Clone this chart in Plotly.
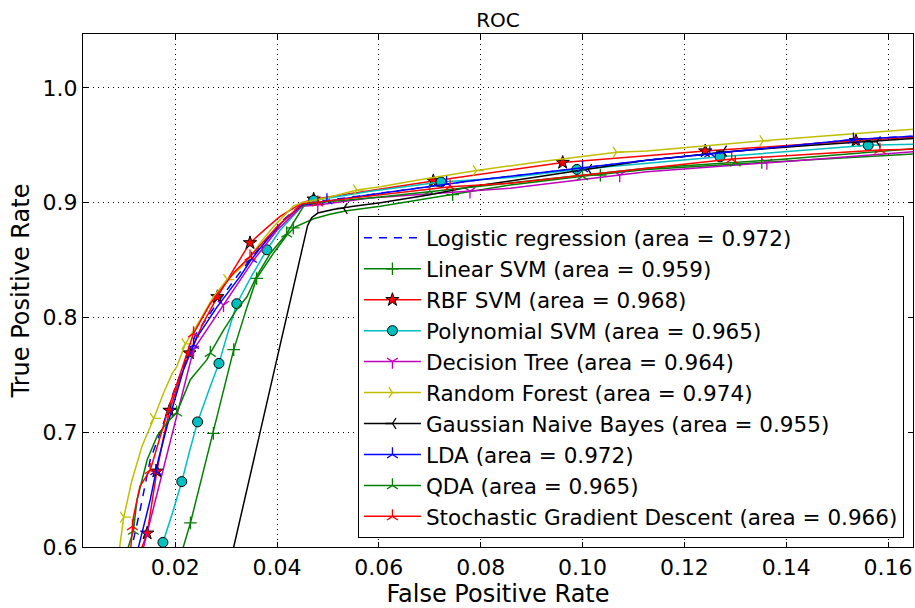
import plotly.graph_objects as go

# ---------------- data ----------------
X_TICKS = [0.02, 0.04, 0.06, 0.08, 0.10, 0.12, 0.14, 0.16]
X_TICK_LABELS = ["0.02", "0.04", "0.06", "0.08", "0.10", "0.12", "0.14", "0.16"]
Y_TICKS = [0.6, 0.7, 0.8, 0.9, 1.0]
Y_TICK_LABELS = ["0.6", "0.7", "0.8", "0.9", "1.0"]

NAMES = ["Logistic regression (area = 0.972)", "Linear SVM (area = 0.959)",
         "RBF SVM (area = 0.968)", "Polynomial SVM (area = 0.965)",
         "Decision Tree (area = 0.964)", "Random Forest (area = 0.974)",
         "Gaussian Naive Bayes (area = 0.955)", "LDA (area = 0.972)",
         "QDA (area = 0.965)", "Stochastic Gradient Descent (area = 0.966)"]

# Logistic regression
LR_FPR = [0.0111, 0.0115, 0.0131, 0.0151, 0.0175, 0.0197, 0.0215, 0.0240, 0.0280, 0.0325, 0.0347,
          0.0370, 0.0410, 0.0449, 0.0583, 0.0779, 0.0976, 0.1126, 0.1350, 0.1532, 0.1650]
LR_TPR = [0.580, 0.600, 0.632, 0.676, 0.705, 0.735, 0.756, 0.785, 0.811, 0.838, 0.850,
          0.863, 0.884, 0.899, 0.907, 0.919, 0.929, 0.937, 0.947, 0.955, 0.958]

# Linear SVM
LSVM_FPR = [0.0212, 0.0216, 0.0230, 0.0256, 0.0275, 0.0295, 0.0315, 0.0341, 0.0360, 0.0393, 0.0420,
            0.0436, 0.0472, 0.0504, 0.0537, 0.0603, 0.0700, 0.0858, 0.1000, 0.1126, 0.1352, 0.1650]
LSVM_TPR = [0.580, 0.600, 0.621, 0.667, 0.699, 0.734, 0.772, 0.809, 0.834, 0.856, 0.872,
            0.879, 0.886, 0.890, 0.893, 0.897, 0.904, 0.9155, 0.923, 0.929, 0.935, 0.9425]
LSVM_MK_FPR = [0.0230, 0.0275, 0.0315, 0.0360, 0.0432, 0.0745, 0.1035, 0.1352]
LSVM_MK_TPR = [0.621, 0.699, 0.772, 0.834, 0.878, 0.907, 0.924, 0.935]

# RBF SVM
RBF_FPR = [0.0132, 0.0135, 0.0145, 0.0155, 0.0164, 0.0176, 0.0189, 0.0208, 0.0228, 0.0255, 0.0283,
           0.0315, 0.0347, 0.0377, 0.0406, 0.0439, 0.0449, 0.0472, 0.0603, 0.0707, 0.0961, 0.1241,
           0.1537, 0.1650]
RBF_TPR = [0.580, 0.600, 0.612, 0.640, 0.666, 0.693, 0.719, 0.745, 0.769, 0.795, 0.818,
           0.842, 0.865, 0.877, 0.888, 0.897, 0.900, 0.903, 0.912, 0.919, 0.935, 0.945,
           0.954, 0.957]
RBF_MK_FPR = [0.0145, 0.0164, 0.0189, 0.0228, 0.0283, 0.0347, 0.0472, 0.0707, 0.0961, 0.1241, 0.1537]
RBF_MK_TPR = [0.612, 0.666, 0.719, 0.769, 0.818, 0.865, 0.903, 0.919, 0.935, 0.945, 0.954]

# Polynomial SVM
POLY_FPR = [0.0172, 0.0176, 0.0195, 0.0213, 0.0228, 0.0244, 0.0265, 0.0286, 0.0303, 0.0321, 0.0350,
            0.0380, 0.0406, 0.0449, 0.0472, 0.0583, 0.0722, 0.0858, 0.0989, 0.1113, 0.1270, 0.1561,
            0.1650]
POLY_TPR = [0.580, 0.604, 0.630, 0.657, 0.683, 0.709, 0.735, 0.760, 0.786, 0.812, 0.836,
            0.859, 0.876, 0.897, 0.902, 0.910, 0.918, 0.922, 0.929, 0.934, 0.940, 0.950,
            0.951]
POLY_MK_FPR = [0.0176, 0.0213, 0.0244, 0.0286, 0.0321, 0.0380, 0.0472, 0.0722, 0.0989, 0.1270, 0.1561]
POLY_MK_TPR = [0.604, 0.657, 0.709, 0.760, 0.812, 0.859, 0.902, 0.918, 0.929, 0.940, 0.950]

# Decision Tree
DT_FPR = [0.0127, 0.0138, 0.0236, 0.0295, 0.0354, 0.0400, 0.0449, 0.0480, 0.0583, 0.0858, 0.1126,
          0.1400, 0.1650]
DT_TPR = [0.580, 0.600, 0.772, 0.811, 0.850, 0.876, 0.897, 0.898, 0.904, 0.9126, 0.927,
          0.936, 0.9445]
DT_MK_FPR = [0.0236, 0.0295, 0.0480, 0.0779, 0.1073, 0.1362]
DT_MK_TPR = [0.772, 0.811, 0.898, 0.910, 0.924, 0.935]

# Random Forest
RF_FPR = [0.0087, 0.0091, 0.0099, 0.0115, 0.0135, 0.0158, 0.0177, 0.0194, 0.0203, 0.0220, 0.0249,
          0.0275, 0.0302, 0.0321, 0.0341, 0.0367, 0.0393, 0.0432, 0.0449, 0.0504, 0.0557, 0.0603,
          0.0680, 0.0792, 0.0920, 0.1067, 0.1126, 0.1355, 0.1500, 0.1650]
RF_TPR = [0.580, 0.600, 0.626, 0.658, 0.688, 0.712, 0.734, 0.751, 0.757, 0.777, 0.798,
          0.818, 0.833, 0.840, 0.849, 0.865, 0.879, 0.897, 0.900, 0.905, 0.911, 0.914,
          0.920, 0.928, 0.936, 0.944, 0.945, 0.954, 0.959, 0.964]
RF_MK_FPR = [0.0099, 0.0158, 0.0220, 0.0302, 0.0557, 0.0792, 0.1067, 0.1355]
RF_MK_TPR = [0.626, 0.712, 0.777, 0.833, 0.911, 0.928, 0.944, 0.954]

# Gaussian Naive Bayes
GNB_FPR = [0.0305, 0.0315, 0.0460, 0.0468, 0.0480, 0.0510, 0.0550, 0.0603, 0.0700, 0.0780, 0.0858,
           0.0976, 0.1126, 0.1300, 0.1450, 0.1650]
GNB_TPR = [0.580, 0.600, 0.880, 0.887, 0.891, 0.894, 0.897, 0.900, 0.907, 0.914, 0.919,
           0.927, 0.937, 0.945, 0.950, 0.956]
GNB_MK_FPR = [0.0531, 0.1011, 0.1276, 0.1578]
GNB_MK_TPR = [0.895, 0.929, 0.945, 0.953]

# LDA
LDA_FPR = [0.0124, 0.0128, 0.0151, 0.0167, 0.0184, 0.0203, 0.0216, 0.0243, 0.0282, 0.0328, 0.0347,
           0.0370, 0.0410, 0.0449, 0.0583, 0.0779, 0.0976, 0.1126, 0.1350, 0.1532, 0.1650]
LDA_TPR = [0.580, 0.600, 0.641, 0.676, 0.705, 0.734, 0.754, 0.783, 0.809, 0.836, 0.849,
           0.862, 0.883, 0.898, 0.907, 0.919, 0.929, 0.937, 0.947, 0.955, 0.958]
LDA_MK_FPR = [0.0162, 0.0236, 0.0350, 0.0498, 0.0733, 0.1000, 0.1250, 0.1532]
LDA_MK_TPR = [0.666, 0.776, 0.851, 0.902, 0.917, 0.930, 0.943, 0.955]

# QDA
QDA_FPR = [0.0104, 0.0108, 0.0118, 0.0125, 0.0145, 0.0165, 0.0185, 0.0203, 0.0230, 0.0262, 0.0269,
           0.0295, 0.0321, 0.0341, 0.0360, 0.0387, 0.0419, 0.0445, 0.0455, 0.0603, 0.0858, 0.1126,
           0.1400, 0.1650]
QDA_TPR = [0.580, 0.600, 0.614, 0.641, 0.676, 0.697, 0.709, 0.717, 0.746, 0.763, 0.769,
           0.789, 0.807, 0.818, 0.836, 0.856, 0.873, 0.892, 0.899, 0.905, 0.917, 0.930,
           0.938, 0.947]
QDA_MK_FPR = [0.0118, 0.0203, 0.0269, 0.0419, 0.0700, 0.1000, 0.1300]
QDA_MK_TPR = [0.614, 0.717, 0.769, 0.873, 0.910, 0.923, 0.935]

# Stochastic Gradient Descent
SGD_FPR = [0.0108, 0.0113, 0.0118, 0.0131, 0.0151, 0.0171, 0.0190, 0.0210, 0.0236, 0.0269, 0.0315,
           0.0347, 0.0400, 0.0449, 0.0583, 0.0740, 0.0858, 0.1126, 0.1293, 0.1584, 0.1650]
SGD_TPR = [0.580, 0.600, 0.626, 0.653, 0.667, 0.696, 0.725, 0.751, 0.786, 0.812, 0.839,
           0.853, 0.879, 0.899, 0.906, 0.914, 0.917, 0.930, 0.938, 0.946, 0.9466]
SGD_MK_FPR = [0.0116, 0.0151, 0.0236, 0.0347, 0.0480, 0.0740, 0.1293, 0.1584]
SGD_MK_TPR = [0.618, 0.667, 0.786, 0.853, 0.900, 0.914, 0.938, 0.946]

# ---------------- styles ----------------
BLUE, GREEN, RED, CYAN, MAG, YEL, BLK = "#0000ff", "#008000", "#ff0000", "#00bfbf", "#bf00bf", "#bfbf00", "#000000"

series = [
    (LR_FPR, LR_TPR, None, None, BLUE, "dash", None),
    (LSVM_FPR, LSVM_TPR, LSVM_MK_FPR, LSVM_MK_TPR, GREEN, "solid", "cross-thin"),
    (RBF_FPR, RBF_TPR, RBF_MK_FPR, RBF_MK_TPR, RED, "solid", "star"),
    (POLY_FPR, POLY_TPR, POLY_MK_FPR, POLY_MK_TPR, CYAN, "solid", "circle"),
    (DT_FPR, DT_TPR, DT_MK_FPR, DT_MK_TPR, MAG, "solid", "y-down"),
    (RF_FPR, RF_TPR, RF_MK_FPR, RF_MK_TPR, YEL, "solid", "y-right"),
    (GNB_FPR, GNB_TPR, GNB_MK_FPR, GNB_MK_TPR, BLK, "solid", "y-left"),
    (LDA_FPR, LDA_TPR, LDA_MK_FPR, LDA_MK_TPR, BLUE, "solid", "y-up"),
    (QDA_FPR, QDA_TPR, QDA_MK_FPR, QDA_MK_TPR, GREEN, "solid", "y-up"),
    (SGD_FPR, SGD_TPR, SGD_MK_FPR, SGD_MK_TPR, RED, "solid", "y-up"),
]


def marker_style(sym, color):
    if sym == "star":
        return dict(symbol=sym, size=10, color=color, line=dict(color="black", width=1))
    if sym == "circle":
        return dict(symbol=sym, size=10, color=color, line=dict(color="black", width=1))
    return dict(symbol=sym, size=9, color=color, line=dict(color=color, width=1.3))


fig = go.Figure()
for name, (fx, ty, mx, my, color, dash, sym) in zip(NAMES, series):
    dashval = "8px,7px" if dash == "dash" else "solid"
    fig.add_trace(go.Scatter(x=fx, y=ty, mode="lines", showlegend=False, hoverinfo="skip",
                             line=dict(color=color, width=1.5, dash=dashval)))
    if mx is not None:
        fig.add_trace(go.Scatter(x=mx, y=my, mode="markers", showlegend=False, hoverinfo="skip",
                                 marker=marker_style(sym, color)))
    # legend entry
    fig.add_trace(go.Scatter(x=[None], y=[None], name=name,
                             mode="lines" if sym is None else "lines+markers",
                             line=dict(color=color, width=1.5, dash=dashval),
                             marker=marker_style(sym, color) if sym else None))

FONT = "DejaVu Sans"
axis_common = dict(showline=True, linecolor="black", linewidth=1.4, mirror="ticks",
                   ticks="inside", ticklen=5, tickcolor="black", tickwidth=1,
                   showgrid=True, gridcolor="black", gridwidth=1, griddash="1px,4px",
                   zeroline=False, tickfont=dict(family=FONT, size=22, color="black"))

fig.update_layout(
    width=915, height=608,
    margin=dict(l=83, r=2, t=34, b=61),
    paper_bgcolor="white", plot_bgcolor="white",
    font=dict(family=FONT, color="black"),
    title=dict(text="ROC", x=0.5, xref="paper", xanchor="center", y=0.967, yanchor="middle",
               font=dict(family=FONT, size=20, color="black")),
    xaxis=dict(range=[0.0019, 0.1649], tickvals=X_TICKS, ticktext=X_TICK_LABELS,
               title=dict(text="False Positive Rate", font=dict(family=FONT, size=24), standoff=8),
               **axis_common),
    yaxis=dict(range=[0.6, 1.047], tickvals=Y_TICKS, ticktext=Y_TICK_LABELS,
               title=dict(text="True Positive Rate", font=dict(family=FONT, size=24), standoff=6),
               **axis_common),
    legend=dict(x=0.331, y=0.645, xanchor="left", yanchor="top",
                bgcolor="white", bordercolor="black", borderwidth=1.2,
                font=dict(family=FONT, size=21.5, color="black"),
                traceorder="normal", tracegroupgap=0, itemwidth=57),
    showlegend=True,
)

fig.write_html("out.html")
